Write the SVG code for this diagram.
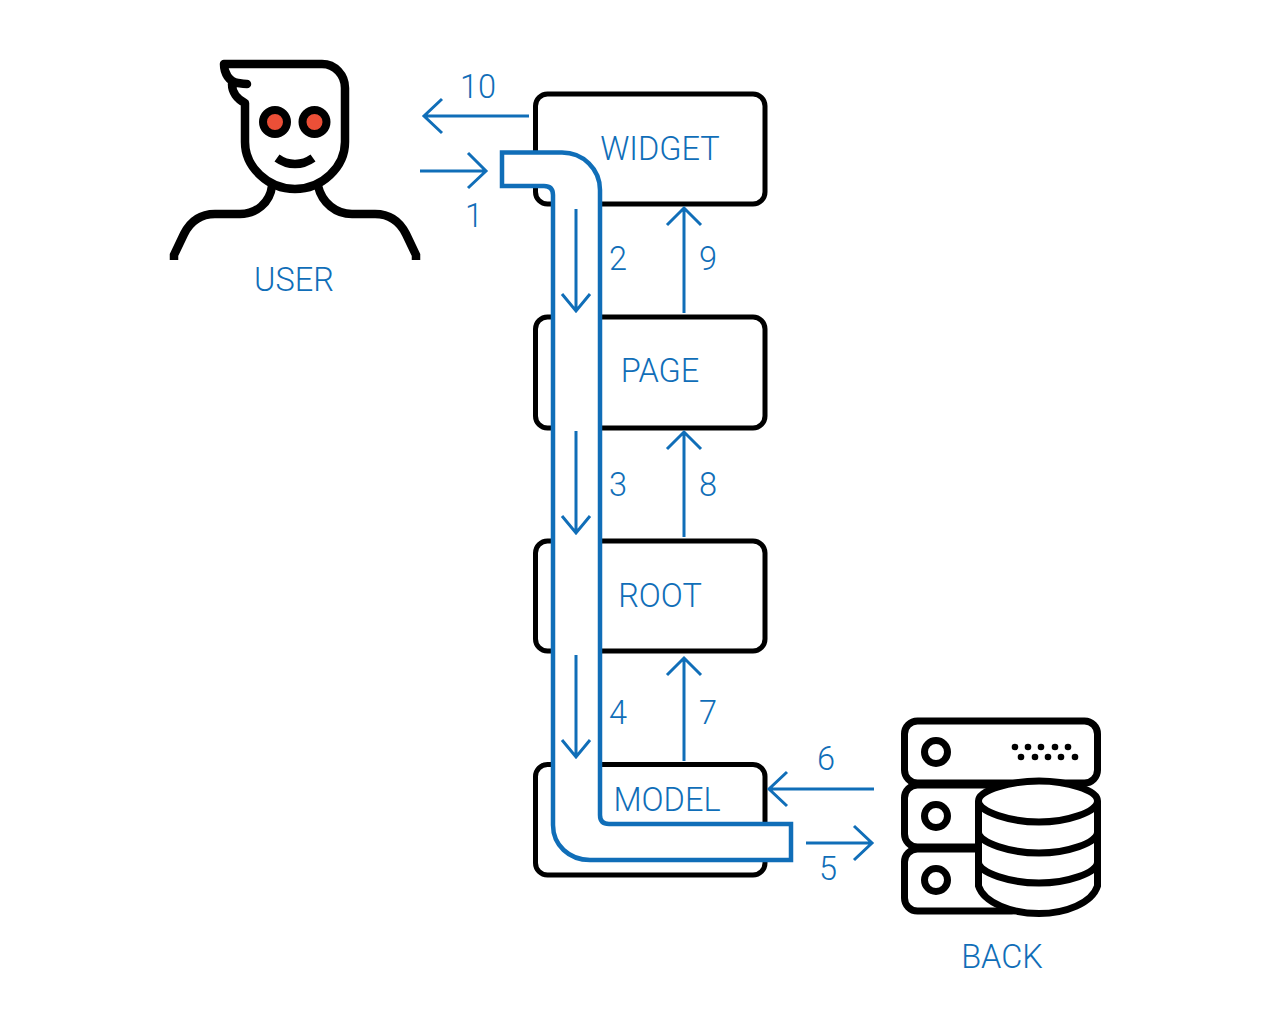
<svg xmlns="http://www.w3.org/2000/svg" width="1280" height="1025" viewBox="0 0 1280 1025">
<style>
.box{fill:#fff;stroke:#000;stroke-width:5}
.ink{fill:none;stroke:#000;stroke-width:8.500}
.srv{fill:none;stroke:#000;stroke-width:7}
.srvfill{fill:#fff;stroke:#000;stroke-width:7}
.lbl{font-family:Roboto,"Liberation Sans",sans-serif;font-weight:300;font-size:32.500px;fill:#106eb8;text-anchor:middle}
.conn{fill:none;stroke:#106eb8;stroke-width:3}
.pipe{fill:#fff;stroke:#106eb8;stroke-width:4.500}
</style>
<rect width="1280" height="1025" fill="#fff"/>
<g id="user">
<path class="ink" stroke-linecap="round" stroke-linejoin="round" d="M224 64H322C335 64 345 75 345 88V142C345 167 322 189 295 189C268 189 245 167 245 142V103C237 99 232 92 232 84M224 64C224 73 229 82 238 83C241 83.500 244 84 247 84"/>
<path class="ink" d="M272 186C270 203 256 214 240 214H215C200 214 190 222 184 234L174 255L174 260M318 186C322 203 336 214 352 214H375C390 214 400 222 406 234L416 255V260"/>
<circle cx="275" cy="122" r="12" fill="#ec4f37" stroke="#000" stroke-width="8"/>
<circle cx="314.500" cy="122" r="12" fill="#ec4f37" stroke="#000" stroke-width="8"/>
<path class="ink" d="M277 158C288 166 302 166 313 158"/>
<text class="lbl" x="294" y="291">USER</text>
</g>
<g id="widget"><rect class="box" x="535.500" y="94" width="229.500" height="110" rx="12"/><text class="lbl" x="660" y="160">WIDGET</text></g>
<g id="page"><rect class="box" x="535.500" y="317" width="229.500" height="111" rx="12"/><text class="lbl" x="660" y="382">PAGE</text></g>
<g id="root"><rect class="box" x="535.500" y="541" width="229.500" height="110" rx="12"/><text class="lbl" x="660" y="607">ROOT</text></g>
<g id="model"><rect class="box" x="535.500" y="764.500" width="229.500" height="110.500" rx="12"/></g>
<g id="pipe"><path class="pipe" d="M502 152.500H562C583 152.500 600 169 600 190V815Q600 824 609 824H791V860H590C569 860 553 845 553 825V195Q553 186 544 186H502Z"/></g>
<text class="lbl" x="667" y="811">MODEL</text>
<g id="back">
<rect class="srvfill" x="904.500" y="721" width="193" height="62" rx="13"/>
<rect class="srvfill" x="904.500" y="785" width="120" height="62" rx="13"/>
<rect class="srvfill" x="904.500" y="849" width="120" height="62" rx="13"/>
<circle class="srv" cx="936" cy="752" r="11.500"/><circle class="srv" cx="936" cy="816" r="11.500"/><circle class="srv" cx="936" cy="880" r="11.500"/>
<g fill="#000"><circle cx="1015" cy="747" r="3.300"/><circle cx="1028" cy="747" r="3.300"/><circle cx="1041" cy="747" r="3.300"/><circle cx="1055" cy="747" r="3.300"/><circle cx="1068" cy="747" r="3.300"/><circle cx="1021" cy="757" r="3.300"/><circle cx="1035" cy="757" r="3.300"/><circle cx="1048" cy="757" r="3.300"/><circle cx="1061" cy="757" r="3.300"/><circle cx="1075" cy="757" r="3.300"/></g>
<path class="srvfill" d="M978.500 801V886C984 903 1012 913.500 1039 913.500C1066 913.500 1092 903 1097.500 886V801C1097.500 790 1067 781 1039 781C1011 781 978.500 790 978.500 801Z"/>
<path class="srv" d="M978.500 801C978.500 812 1011 822 1039 822C1067 822 1097.500 812 1097.500 801M978.500 832C978.500 843 1011 853 1039 853C1067 853 1097.500 843 1097.500 832M978.500 862C978.500 873 1011 883 1039 883C1067 883 1097.500 873 1097.500 862"/>
<text class="lbl" x="1002" y="968">BACK</text>
</g>
<g id="connectors">
<path class="conn" d="M529 116H425M442 99L424 116L442 133"/>
<path class="conn" d="M420 171H485M468 153L486 171L468 188"/>
<path class="conn" d="M576 209V310M562 294L576 311L590 294"/>
<path class="conn" d="M684 313V209M667 225L684 208L701 225"/>
<path class="conn" d="M576 431V532M562 516L576 533L590 516"/>
<path class="conn" d="M684 537V433M667 449L684 432L701 449"/>
<path class="conn" d="M576 655V756M562 740L576 757L590 740"/>
<path class="conn" d="M684 761V658M667 675L684 658L701 675"/>
<path class="conn" d="M874 789H769M787 772L769 789L787 806"/>
<path class="conn" d="M806 843H872M854 826L872 843L854 860"/>
</g>
<g id="labels">
<text class="lbl" x="478" y="98">10</text><text class="lbl" x="474" y="227">1</text>
<text class="lbl" x="618" y="270">2</text><text class="lbl" x="708" y="270">9</text>
<text class="lbl" x="618" y="496">3</text><text class="lbl" x="708" y="496">8</text>
<text class="lbl" x="618" y="724">4</text><text class="lbl" x="708" y="724">7</text>
<text class="lbl" x="826" y="770">6</text><text class="lbl" x="828" y="880">5</text>
</g>
</svg>
